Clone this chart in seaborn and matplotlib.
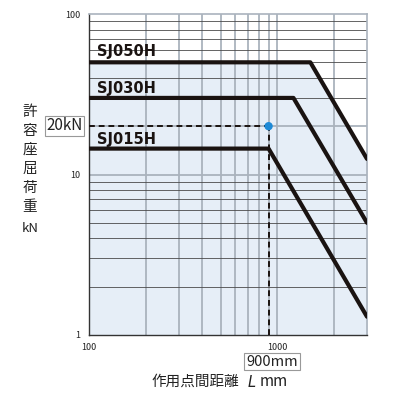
import pandas as pd
import matplotlib
matplotlib.use("Agg")
import matplotlib.pyplot as plt
import seaborn as sns

# values (log-log buckling chart)
models = ["SJ050H", "SJ030H", "SJ015H"]
L_start = [100, 100, 100]
knee_L = [1500, 1220, 900]
L_end = [3000, 3000, 3000]
flat_load = [50, 30, 14.5]
end_load = [12.5, 5.0, 1.3]
label_y = [58, 34.5, 16.5]

example_L = 900
example_load = 20

x_ticks = [100, 1000]
y_ticks = [1, 10, 100]
x_grid = [200, 300, 400, 500, 600, 700, 800, 900, 1000, 2000]
y_grid = [2, 3, 4, 5, 6, 7, 8, 9, 10, 20, 30, 40, 50, 60, 70, 80, 90]

rows = []
for m, a, k, b, f, e in zip(models, L_start, knee_L, L_end, flat_load, end_load):
    rows += [(m, a, f), (m, k, f), (m, b, e)]
df = pd.DataFrame(rows, columns=["model", "L", "load"])

sns.set_theme(style="white")
plt.rcParams["font.family"] = ["Noto Sans CJK JP", "DejaVu Sans"]

fig = plt.figure(figsize=(4, 4), dpi=100)
ax = fig.add_axes([0.2225, 0.1625, 0.695, 0.8025])
ax.set_xscale("log")
ax.set_yscale("log")
ax.set_xlim(100, 3000)
ax.set_ylim(1, 100)

# shaded region under the biggest model
big = df[df["model"] == models[0]]
ax.fill_between(big["L"], 1, big["load"], color="#e6eef7", zorder=0)

for v in x_grid:
    ax.axvline(v, color="#aab3bd", lw=1.3, zorder=1)
for v in y_grid:
    c = "#aab3bd" if v in (10, 20) else "#4a4a4a"
    w = 1.3 if v in (10, 20) else 0.6
    ax.axhline(v, color=c, lw=w, zorder=1)

sns.lineplot(data=df, x="L", y="load", units="model", estimator=None,
             sort=False, color="#1a1311", lw=3.0, ax=ax, zorder=3)

for m, y in zip(models, label_y):
    ax.text(110, y, m, fontsize=10.5, fontweight="heavy", color="#1a1311",
            va="center", ha="left", family=["DejaVu Sans"], zorder=4)

ax.plot([100, example_L], [example_load, example_load], ls=(0, (3, 2)),
        color="#1a1311", lw=1.4, zorder=4)
ax.plot([example_L, example_L], [1, example_load], ls=(0, (3, 2)),
        color="#1a1311", lw=1.4, zorder=4)
ax.scatter([example_L], [example_load], s=36, color="#1e8ad6", zorder=5,
           edgecolors="none")

for s in ["top", "right"]:
    ax.spines[s].set_color("#aab3bd")
    ax.spines[s].set_linewidth(1.2)
for s in ["left", "bottom"]:
    ax.spines[s].set_color("#333333")
    ax.spines[s].set_linewidth(1.0)

ax.set_xticks(x_ticks)
ax.set_xticklabels([str(t) for t in x_ticks])
ax.set_yticks(y_ticks)
ax.set_yticklabels([str(t) for t in y_ticks])
ax.minorticks_off()
ax.tick_params(axis="both", length=0, labelsize=6.5, pad=6, colors="#222222")
ax.set_xlabel("")
ax.set_ylabel("")

# boxed callouts
fig.text(0.2065, 0.685, "20kN", fontsize=11, ha="right", va="center", color="#222",
         bbox=dict(boxstyle="square,pad=0.12", fc="white", ec="#999999", lw=0.8))
fig.text(0.68, 0.096, "900mm", fontsize=10.5, ha="center", va="center", color="#222",
         bbox=dict(boxstyle="square,pad=0.12", fc="white", ec="#999999", lw=0.8))

fig.text(0.597, 0.045, "作用点間距離", fontsize=10.5, ha="right", va="center", color="#222")
fig.text(0.618, 0.045, "$\\it{L}$", fontsize=10.5, ha="left", va="center", color="#222",
         family=["DejaVu Sans"])
fig.text(0.648, 0.045, "mm", fontsize=11, ha="left", va="center", color="#222")

y_chars = ["許", "容", "座", "屈", "荷", "重"]
for i, ch in enumerate(y_chars):
    fig.text(0.075, 0.72 - i * 0.0475, ch, fontsize=10.5, ha="center", va="center", color="#222")
fig.text(0.075, 0.43, "kN", fontsize=9.5, ha="center", va="center", color="#222")

fig.savefig("out.png", dpi=100, facecolor="white")
